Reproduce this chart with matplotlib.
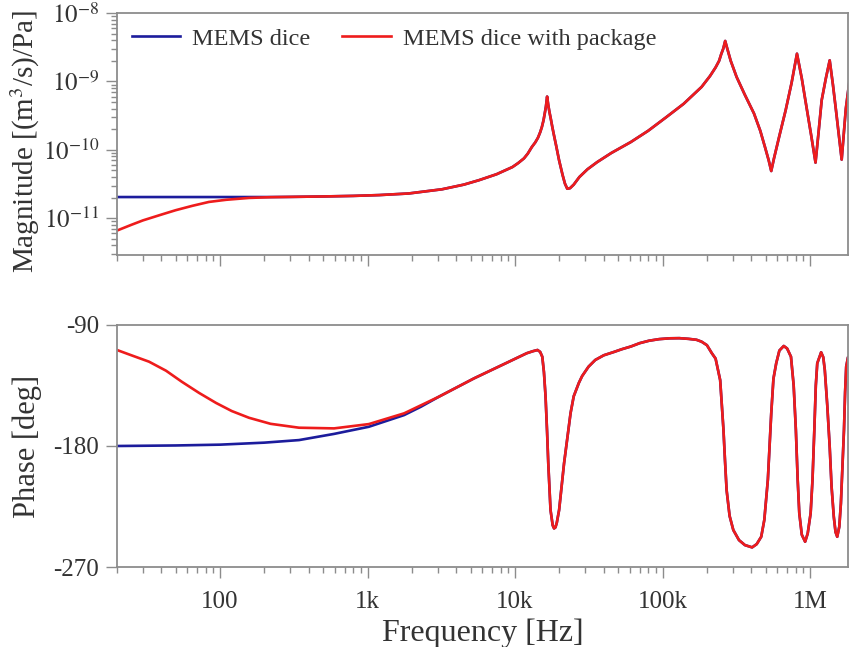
import numpy as np
import matplotlib
matplotlib.use("Agg")
import matplotlib.pyplot as plt
from matplotlib.ticker import LogLocator, FixedLocator, FixedFormatter, NullFormatter

plt.rcParams['font.family'] = ['Liberation Serif', 'DejaVu Serif']
plt.rcParams['mathtext.fontset'] = 'stix'

# ---------------- data ----------------
# MEMS dice with package : magnitude
freq_mag_pkg = [20, 25, 30, 40, 50, 65, 84, 110, 157, 220, 300, 500, 800, 1200, 1900, 3200,
                4500, 5700, 7500, 9600, 10500, 11500, 12200, 13000, 13700, 14300, 14800, 15200,
                15600, 15900, 16200, 16500, 16800, 17100, 17500, 17900, 18400, 19000, 19900,
                21000, 21800, 22600, 23600, 25000, 27300, 31000, 36000, 45000, 61000,
                80000, 106000, 139000, 184000, 210000, 229000, 242000, 250000, 258000, 266000,
                275000, 290000, 318000, 360000, 417000, 460000, 495000, 525000, 546000, 570000,
                620000, 684000, 750000, 816000, 880000, 947000, 1020000, 1090000, 1140000,
                1200000, 1280000, 1360000, 1430000, 1500000, 1640000, 1750000, 1870000]
mag_pkg = [6.6e-12, 8.0e-12, 9.3e-12, 1.13e-11, 1.31e-11, 1.52e-11, 1.73e-11, 1.86e-11, 1.98e-11,
           2.03e-11, 2.05e-11, 2.08e-11, 2.12e-11, 2.18e-11, 2.3e-11, 2.65e-11,
           3.1e-11, 3.6e-11, 4.4e-11, 5.6e-11, 6.4e-11, 7.5e-11, 8.8e-11, 1.1e-10, 1.28e-10,
           1.5e-10, 1.8e-10, 2.15e-10, 2.7e-10, 3.4e-10, 4.3e-10, 6.0e-10, 4.5e-10, 3.6e-10,
           2.8e-10, 2.15e-10, 1.6e-10, 1.15e-10, 7.0e-11, 4.3e-11, 3.2e-11, 2.7e-11, 2.75e-11,
           3.1e-11, 4.0e-11, 5.2e-11, 6.6e-11, 9.0e-11, 1.3e-10, 1.9e-10, 3.0e-10, 4.7e-10,
           8.3e-10, 1.2e-9, 1.6e-9, 2.0e-9, 2.5e-9, 3.0e-9, 3.9e-9, 3.0e-9, 2.0e-9, 1.16e-9,
           6.5e-10, 3.4e-10, 1.9e-10, 1.1e-10, 7e-11, 4.9e-11, 7.5e-11, 1.6e-10, 3.8e-10,
           9.5e-10, 2.54e-9, 1.1e-9, 4.2e-10, 1.6e-10, 6.5e-11, 1.7e-10, 5.3e-10, 1.1e-9,
           2.03e-9, 9e-10, 3.8e-10, 7.2e-11, 4.0e-10, 1.2e-9]

# MEMS dice : magnitude (low-frequency part; identical to packaged curve above ~250 Hz)
freq_mag_dice = [20, 50, 100, 157, 220]
mag_dice = [2.04e-11, 2.04e-11, 2.04e-11, 2.04e-11, 2.04e-11]

# MEMS dice with package : phase
freq_ph_pkg = [20, 25, 33, 43, 55, 72, 94, 120, 157, 220, 343, 593, 1020, 1770, 3050, 5270,
               9100, 12000, 13200, 14200, 14800, 15300, 15700, 16100, 16500, 16800, 17400,
               18000, 18400, 18800, 19200, 19900, 21500, 23800, 25000, 27100, 28500, 31500,
               35000, 40000, 47000, 53000, 61000, 70000, 81000, 95000, 112000, 130000, 150000,
               170000, 184000, 200000, 216000, 229000, 246000, 259000, 265000, 272000, 285000,
               302000, 330000, 362000, 405000, 435000, 467000, 490000, 518000, 546000, 565000,
               590000, 620000, 664000, 700000, 743000, 775000, 802000, 825000, 846000, 880000,
               927000, 965000, 1010000, 1040000, 1070000, 1095000, 1120000, 1190000, 1230000,
               1260000, 1310000, 1360000, 1400000, 1450000, 1490000, 1530000, 1580000, 1620000,
               1660000, 1700000, 1730000, 1760000, 1810000, 1870000]
ph_pkg = [-108.6, -112.5, -117.3, -124, -132.2, -140.5, -148, -154, -159, -163.5, -166.4, -166.9,
          -163.7, -155.7, -143.3, -129.7, -117.3, -111, -109.5, -108.6, -110, -113.6, -125, -143,
          -170, -192.8, -227.6, -239, -241.3, -240.5, -237, -227.6, -192.8, -155.5, -143, -133,
          -128, -121, -116, -112.5, -110, -108, -106, -103.5, -101.7, -100.5, -99.9, -99.8,
          -100.3, -101, -102.4, -105, -111, -115, -131, -168, -190, -212.8, -232, -242.5, -250,
          -253.7, -255.4, -253, -247.5, -235, -205, -155.7, -130, -118.5, -109, -105.6, -107.5,
          -113.6, -135, -168, -205, -230, -246, -251.2, -245, -230, -205, -168, -135, -118.5,
          -110.3, -114, -123.5, -150, -180.5, -210, -232.6, -244, -247.5, -240, -222.7, -195,
          -168, -140, -121, -114, -114.5]

# MEMS dice : phase (low-frequency part; identical to packaged curve above ~3 kHz)
freq_ph_dice = [20, 50, 100, 200, 343, 593, 1020, 1770, 2300]
ph_dice = [-180, -179.6, -179, -177.5, -175.6, -171, -165.7, -157, -150.8]

xtick_vals = [100, 1e3, 1e4, 1e5, 1e6]
xtick_labels = ['100', '1k', '10k', '100k', '1M']
mag_ticks = [1e-11, 1e-10, 1e-9, 1e-8]
mag_tick_labels = [r'$10^{-11}$', r'$10^{-10}$', r'$10^{-9}$', r'$10^{-8}$']
ph_ticks = [-270, -180, -90]

# full dice curves = own low-frequency part + shared part of the packaged curve
fm = np.array(freq_mag_pkg)
fd_mag = np.concatenate([freq_mag_dice, fm[fm > freq_mag_dice[-1]]])
md_mag = np.concatenate([mag_dice, np.array(mag_pkg)[fm > freq_mag_dice[-1]]])
fp = np.array(freq_ph_pkg)
fd_ph = np.concatenate([freq_ph_dice, fp[fp > 3000]])
pd_ph = np.concatenate([ph_dice, np.array(ph_pkg)[fp > 3000]])

# ---------------- figure ----------------
W, H = 849, 647
fig = plt.figure(figsize=(W / 100, H / 100), dpi=100)
left = 117 / W
right = 848 / W
ax1 = fig.add_axes([left, 1 - 255 / H, right - left, (255 - 13) / H])
ax2 = fig.add_axes([left, 1 - 567 / H, right - left, (567 - 325) / H])

blue = '#1c1c9c'
red = '#ee1c1c'
spine_col = '#8c8c8c'
txt_col = '#333333'

ax1.plot(fd_mag, md_mag, color=blue, lw=1.9, label='MEMS dice')
ax1.plot(freq_mag_pkg, mag_pkg, color=red, lw=1.9, label='MEMS dice with package')
ax2.plot(fd_ph, pd_ph, color=blue, lw=1.9)
ax2.plot(freq_ph_pkg, ph_pkg, color=red, lw=1.9)

xlim = (20, 1.81e6)
for ax in (ax1, ax2):
    ax.set_xscale('log')
    ax.set_xlim(*xlim)
    ax.xaxis.set_major_locator(FixedLocator(xtick_vals))
    ax.xaxis.set_minor_locator(LogLocator(base=10, subs=np.arange(2, 10), numticks=20))
    ax.xaxis.set_minor_formatter(NullFormatter())
    for s in ax.spines.values():
        s.set_color(spine_col)
        s.set_linewidth(1.3)
    ax.tick_params(which='major', direction='out', length=8, width=1.0, color=spine_col,
                   labelsize=18, labelcolor=txt_col, pad=5)
    ax.tick_params(which='minor', direction='out', length=4.5, width=1.0, color=spine_col)

ax1.set_xticklabels([])
ax2.xaxis.set_major_formatter(FixedFormatter(xtick_labels))
ax2.tick_params(axis='x', which='major', pad=9)

ax1.set_yscale('log')
ax1.set_ylim(2.9e-12, 1e-8)
ax1.yaxis.set_major_locator(FixedLocator(mag_ticks))
ax1.yaxis.set_major_formatter(FixedFormatter(mag_tick_labels))
ax1.yaxis.set_minor_locator(LogLocator(base=10, subs=np.arange(2, 10), numticks=20))
ax1.yaxis.set_minor_formatter(NullFormatter())
ax1.tick_params(axis='y', which='minor', length=4)

ax2.set_ylim(-270, -90)
ax2.yaxis.set_major_locator(FixedLocator(ph_ticks))
ax2.set_yticklabels([str(t) for t in ph_ticks])

ax1.set_ylabel('Magnitude [(m$^3$/s)/Pa]', fontsize=21, color=txt_col)
ax2.set_ylabel('Phase [deg]', fontsize=22, color=txt_col)
ax2.set_xlabel('Frequency [Hz]', fontsize=23, color=txt_col, labelpad=4)
ax1.yaxis.set_label_coords(-0.102, 0.47)
ax2.yaxis.set_label_coords(-0.102, 0.5)

leg = ax1.legend(loc='upper left', ncol=2, frameon=False, fontsize=17.5, handlelength=2.0,
                 columnspacing=1.3, handletextpad=0.5, borderaxespad=0.2,
                 bbox_to_anchor=(0.0, 1.0))
for t in leg.get_texts():
    t.set_color(txt_col)

fig.savefig('out.png', dpi=100)
